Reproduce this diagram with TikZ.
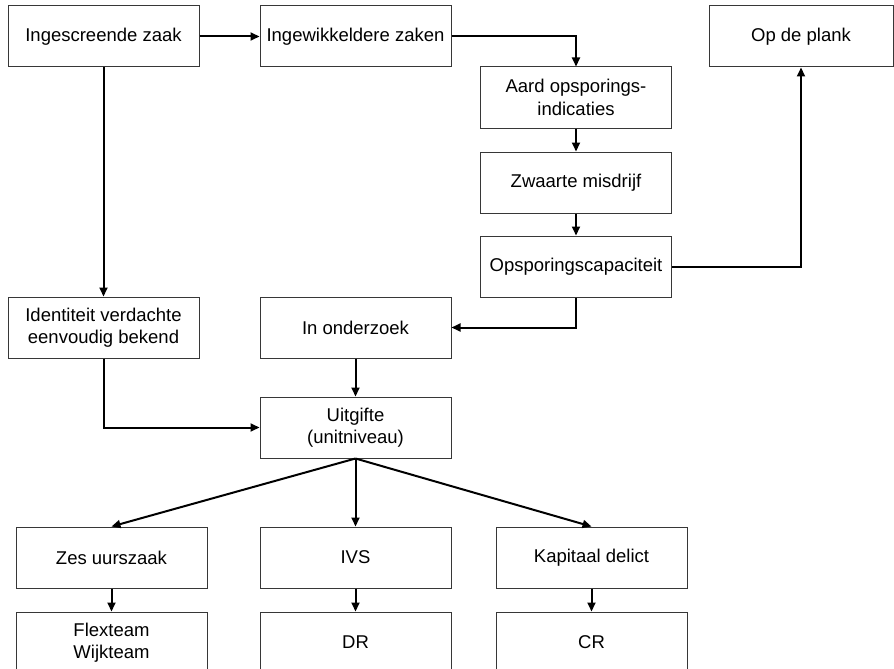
\documentclass[tikz,border=0pt]{standalone}
\usepackage{fontspec}
\setmainfont{Liberation Sans}
\usetikzlibrary{arrows.meta,positioning}
\definecolor{boxline}{RGB}{55,55,55}

\begin{document}
\begin{tikzpicture}[x=1pt, y=-1pt,
    box/.style={draw=boxline, line width=1pt, minimum width=191pt, minimum height=61pt,
      inner sep=2pt, align=center, font=\fontsize{18.5}{22.5}\selectfont},
    flow/.style={-{Triangle[length=9pt,width=8pt]}, line width=2pt, black}]

  \useasboundingbox (0,0) rectangle (894,669);
  \clip (0,0) rectangle (894,669);

  % Top row
  \node[box] (scr) at (103.5,36.5) {Ingescreende zaak};
  \node[box] (ingew) at (355.5,36.5) {Ingewikkeldere zaken};
  \node[box, minimum width=184pt] (plank) at (801,36.5) {Op de plank};

  % Criteria column
  \node[box] (aard) at (576,97.5) {Aard opsporings-\\indicaties};
  \node[box] (zwaarte) at (576,182.5) {Zwaarte misdrijf};
  \node[box] (capac) at (576,266.5) {Opsporingscapaciteit};

  % Middle
  \node[box] (ident) at (103.5,327.5) {Identiteit verdachte\\eenvoudig bekend};
  \node[box] (onderz) at (355.5,327.5) {In onderzoek};
  \node[box] (uitg) at (355.5,427.5) {Uitgifte\\(unitniveau)};

  % Case types
  \node[box] (zes) at (111.5,557.5) {Zes uurszaak};
  \node[box] (ivs) at (355.5,557.5) {IVS};
  \node[box] (kap) at (591.5,557.5) {Kapitaal delict};

  % Teams
  \node[box] (flex) at (111.5,642.5) {Flexteam\\Wijkteam};
  \node[box] (dr) at (355.5,642.5) {DR};
  \node[box] (cr) at (591.5,642.5) {CR};

  % Connectors
  \draw[flow] (scr) -- (ingew);
  \draw[flow] (ingew.east) -| (aard.north);
  \draw[flow] (aard) -- (zwaarte);
  \draw[flow] (zwaarte) -- (capac);
  \draw[flow] (capac.east) -| (plank.south);
  \draw[flow] (scr) -- (ident);
  \draw[flow] (capac.south) |- (onderz.east);
  \draw[flow] (onderz) -- (uitg);
  \draw[flow] (ident.south) |- (uitg.west);
  \draw[flow] (uitg.south) -- (zes.north);
  \draw[flow] (uitg.south) -- (ivs.north);
  \draw[flow] (uitg.south) -- (kap.north);
  \draw[flow] (zes) -- (flex);
  \draw[flow] (ivs) -- (dr);
  \draw[flow] (kap) -- (cr);

\end{tikzpicture}
\end{document}
